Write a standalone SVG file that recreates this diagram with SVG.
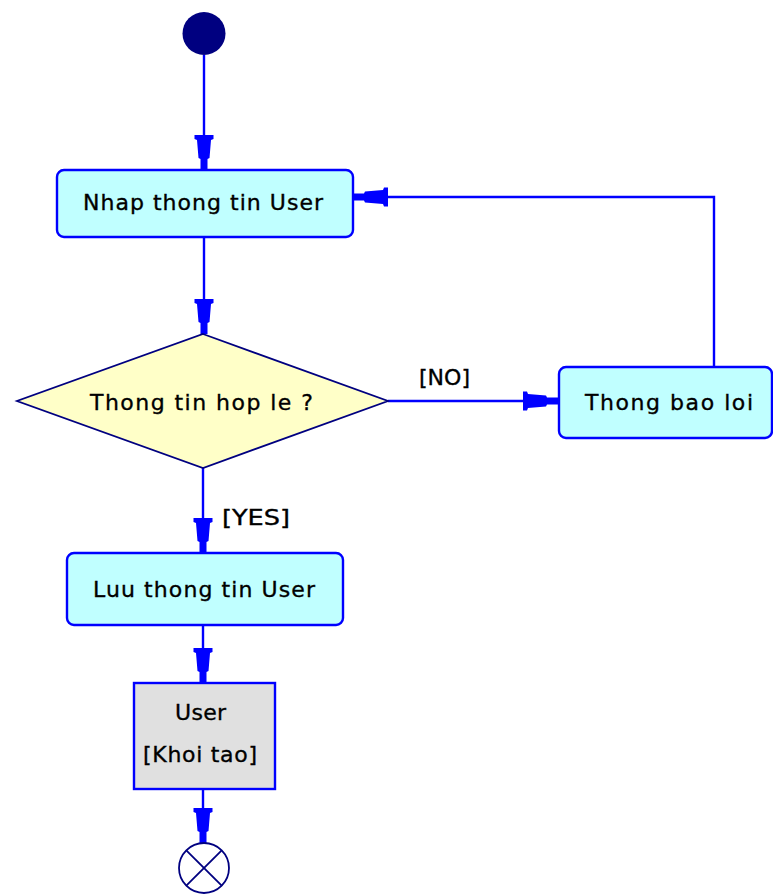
<svg xmlns="http://www.w3.org/2000/svg" xmlns:xlink="http://www.w3.org/1999/xlink" width="773" height="894" viewBox="0 0 773 894">
<style>
.line{fill:none;stroke:#0000FF;stroke-width:2.4}
.act{fill:#C0FFFF;stroke:#0000FF;stroke-width:2.4}
.obj{fill:#E0E0E0;stroke:#0000FF;stroke-width:2.4}
.dec{fill:#FFFFC8;stroke:#000080;stroke-width:1.8}
.t{font-family:"DejaVu Sans","Liberation Sans",sans-serif;font-size:22px;fill:#000;stroke:#000;stroke-width:0.35}
.ah{fill:#0000FF}
</style>
<defs>
<path id="ah" class="ah" d="M-9.5,-35 H9.5 V-31 L7,-30 L5.5,-12 L3.5,-11 V0 H-3.5 V-11 L-5.5,-12 L-7,-30 L-9.5,-31 Z"/>
</defs>
<rect width="773" height="894" fill="#FFFFFF"/>
<g id="connectors">
<line class="line" x1="204" y1="55" x2="204" y2="170"/>
<use xlink:href="#ah" transform="translate(204,170)"/>
<line class="line" x1="204" y1="237" x2="204" y2="334"/>
<use xlink:href="#ah" transform="translate(204,334)"/>
<line class="line" x1="388" y1="401" x2="558" y2="401"/>
<use xlink:href="#ah" transform="translate(558,401) rotate(-90)"/>
<polyline class="line" points="714,367 714,197 353,197"/>
<use xlink:href="#ah" transform="translate(353,197) rotate(90)"/>
<line class="line" x1="203" y1="468" x2="203" y2="553"/>
<use xlink:href="#ah" transform="translate(203,553)"/>
<line class="line" x1="203" y1="625" x2="203" y2="683"/>
<use xlink:href="#ah" transform="translate(203,683)"/>
<line class="line" x1="203" y1="789" x2="203" y2="843"/>
<use xlink:href="#ah" transform="translate(203,843)"/>
<text class="t" x="419" y="385" textLength="51" lengthAdjust="spacingAndGlyphs">[NO]</text>
<text class="t" x="222" y="525" textLength="68" lengthAdjust="spacingAndGlyphs">[YES]</text>
</g>
<g id="start">
<circle cx="204" cy="33.5" r="21.5" fill="#000080"/>
</g>
<g id="nhap">
<rect class="act" x="57" y="170" width="296" height="67" rx="7"/>
<text class="t" x="83" y="210" textLength="240" lengthAdjust="spacing">Nhap thong tin User</text>
</g>
<g id="decision">
<polygon class="dec" points="203,334 388,401 203,468 17,401"/>
<text class="t" x="90" y="410" textLength="223" lengthAdjust="spacing">Thong tin hop le ?</text>
</g>
<g id="thongbao">
<rect class="act" x="559" y="367" width="213" height="71" rx="7"/>
<text class="t" x="585" y="410" textLength="168" lengthAdjust="spacing">Thong bao loi</text>
</g>
<g id="luu">
<rect class="act" x="67" y="553" width="276" height="72" rx="7"/>
<text class="t" x="93" y="597" textLength="222" lengthAdjust="spacing">Luu thong tin User</text>
</g>
<g id="user">
<rect class="obj" x="134" y="683" width="141" height="106"/>
<text class="t" x="175" y="720" textLength="51" lengthAdjust="spacing">User</text>
<text class="t" x="143" y="762" textLength="114" lengthAdjust="spacing">[Khoi tao]</text>
</g>
<g id="end">
<circle cx="204" cy="868" r="25" fill="#FFFFFF" stroke="#000080" stroke-width="1.8"/>
<line x1="186.3" y1="850.3" x2="221.7" y2="885.7" stroke="#000080" stroke-width="1.8"/>
<line x1="221.7" y1="850.3" x2="186.3" y2="885.7" stroke="#000080" stroke-width="1.8"/>
</g>
</svg>
